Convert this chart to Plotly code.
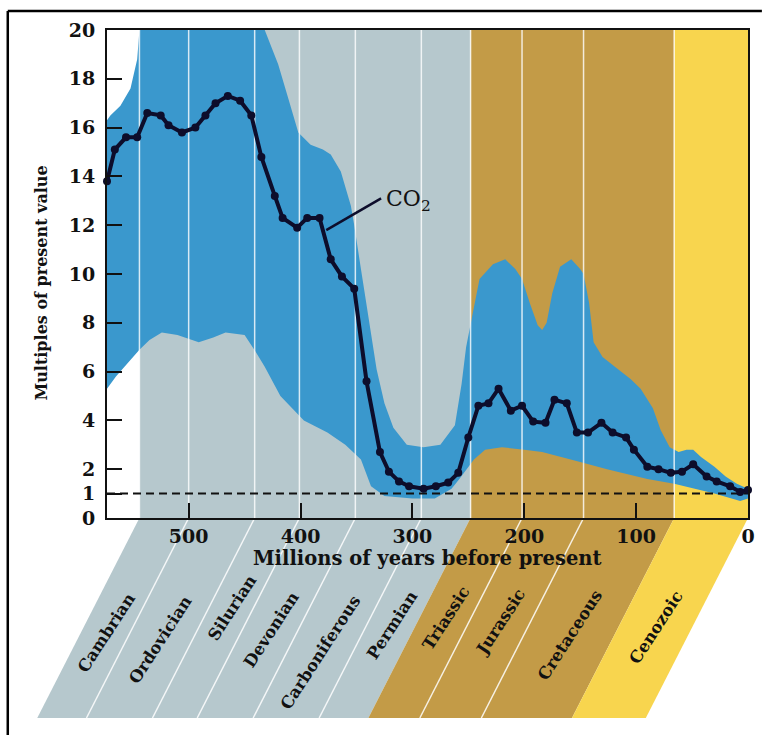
import plotly.graph_objects as go

# ---------------- data ----------------
co2_age = [573, 566, 556, 546, 537, 525, 518, 506, 494, 485, 476, 465, 454, 444, 435, 423, 416,
           403, 394, 383, 373, 363, 352, 341, 329, 321, 312, 303, 290, 279, 268, 259, 250, 241,
           232, 223, 212, 202, 192, 181, 173, 162, 153, 143, 131, 121, 109, 102, 90, 80, 69,
           59, 49, 37, 28, 16, 7, 0]
co2_val = [13.8, 15.1, 15.6, 15.6, 16.6, 16.5, 16.1, 15.8, 16.0, 16.5, 17.0, 17.3, 17.1, 16.5,
           14.8, 13.2, 12.3, 11.9, 12.3, 12.3, 10.6, 9.9, 9.4, 5.6, 2.7, 1.9, 1.5, 1.3, 1.2,
           1.3, 1.45, 1.85, 3.3, 4.6, 4.7, 5.3, 4.4, 4.6, 3.95, 3.9, 4.85, 4.7, 3.5, 3.5, 3.9,
           3.5, 3.3, 2.8, 2.1, 2.0, 1.85, 1.9, 2.2, 1.7, 1.5, 1.3, 1.07, 1.15]

upper_age = [573, 570, 561, 552, 546, 544, 432, 420, 411, 402, 391, 380, 373, 364, 355, 352,
             346, 339, 332, 325, 317, 305, 290, 275, 262, 256, 252, 246, 240, 228, 217, 208,
             202, 195, 188, 184, 180, 175, 168, 158, 150, 147, 142, 138, 130, 119, 105, 96,
             85, 78, 70, 62, 55, 49, 42, 30, 20, 10, 0]
upper_val = [16.3, 16.5, 16.9, 17.6, 18.8, 20, 20, 18.6, 17.2, 15.8, 15.3, 15.1, 14.9, 14.2,
             12.8, 12.0, 10.2, 8.1, 6.1, 4.7, 3.7, 3.0, 2.9, 3.0, 3.8, 5.5, 7.0, 8.4, 9.8,
             10.4, 10.6, 10.2, 9.8, 8.8, 7.9, 7.7, 8.0, 9.2, 10.3, 10.6, 10.2, 10.0, 8.8, 7.2,
             6.6, 6.2, 5.7, 5.3, 4.5, 3.6, 2.9, 2.7, 2.8, 2.8, 2.5, 2.1, 1.7, 1.4, 1.2]

lower_age = [573, 565, 555, 544, 535, 524, 510, 491, 478, 467, 450, 440, 432, 418, 397, 376,
             360, 346, 337, 325, 300, 280, 265, 258, 245, 235, 220, 200, 184, 150, 126, 90,
             66, 30, 7, 0]
lower_val = [5.3, 5.8, 6.3, 6.9, 7.3, 7.6, 7.5, 7.2, 7.4, 7.6, 7.5, 6.8, 6.2, 5.0, 4.0, 3.5,
             3.0, 2.4, 1.3, 0.9, 0.8, 0.8, 1.2, 1.6, 2.4, 2.8, 2.9, 2.8, 2.7, 2.3, 2.0, 1.6,
             1.4, 1.0, 0.7, 0.8]

period_names = ["Cambrian", "Ordovician", "Silurian", "Devonian", "Carboniferous", "Permian",
                "Triassic", "Jurassic", "Cretaceous", "Cenozoic"]
period_start = [544, 500, 441, 401, 351, 292, 248, 202, 147, 66]
period_end = [500, 441, 401, 351, 292, 248, 202, 147, 66, 0]

x_ticks = [500, 400, 300, 200, 100, 0]
y_ticks = [0, 1, 2, 4, 6, 8, 10, 12, 14, 16, 18, 20]

# ---------------- layout geometry ----------------
W, H = 767, 735
ML, MR, MT, MB = 107, 14, 30, 217
PW = W - ML - MR
PH = H - MT - MB
XMAX, XMIN = 573, 0
SERIF = "DejaVu Serif"
INK = "#111111"

def xp(age):  # age -> paper x
    return (XMAX - age) / (XMAX - XMIN)

def px2py(py):  # pixel y -> paper y
    return (H - MB - py) / PH

def px2px(px):
    return (px - ML) / PW

SLANT_DX = -103 / PW
Y_BOT = px2py(718)
SLANT_H = 198

GREY = "#b6c8cd"
BROWN = "#c39b47"
YELLOW = "#f8d54e"
BAND = "#3a98cd"
LINE = "#0d0d2b"

fig = go.Figure()

# uncertainty band
fig.add_trace(go.Scatter(
    x=upper_age + lower_age[::-1], y=upper_val + lower_val[::-1],
    fill="toself", fillcolor=BAND, line=dict(width=0), mode="lines",
    hoverinfo="skip", showlegend=False))

# white period boundary lines inside the plot
bx, by = [], []
for b in period_start:
    bx += [b, b, None]
    by += [0, 20, None]
fig.add_trace(go.Scatter(x=bx, y=by, mode="lines",
                         line=dict(color="rgba(255,255,255,0.8)", width=1.5),
                         hoverinfo="skip", showlegend=False))

# dashed reference line at present value
fig.add_trace(go.Scatter(x=[XMAX, XMIN], y=[1, 1], mode="lines",
                         line=dict(color=INK, width=2, dash="8px,5px"),
                         hoverinfo="skip", showlegend=False))

# CO2 curve
fig.add_trace(go.Scatter(x=co2_age, y=co2_val, mode="lines+markers",
                         line=dict(color=LINE, width=4),
                         marker=dict(color=LINE, size=8),
                         cliponaxis=False, showlegend=False))

shapes = []
eras = [(544, 248, GREY), (248, 66, BROWN), (66, 0, YELLOW)]
for a, b, c in eras:
    shapes.append(dict(type="rect", xref="x", yref="paper", x0=a, x1=b, y0=0, y1=1,
                       fillcolor=c, line=dict(width=0), layer="below"))
    xa, xb = xp(a), xp(b)
    path = (f"M {xa},0 L {xb},0 L {xb + SLANT_DX},{Y_BOT} "
            f"L {xa + SLANT_DX},{Y_BOT} Z")
    shapes.append(dict(type="path", xref="paper", yref="paper", path=path,
                       fillcolor=c, line=dict(width=0), layer="below"))

for b in period_start[1:]:
    if b in (248, 66):
        continue
    shapes.append(dict(type="line", xref="paper", yref="paper",
                       x0=xp(b), y0=0, x1=xp(b) + SLANT_DX, y1=Y_BOT,
                       line=dict(color="rgba(255,255,255,0.85)", width=1.5), layer="below"))

# CO2 pointer line
shapes.append(dict(type="line", xref="x", yref="y", x0=377, y0=11.8, x1=328, y1=13.1,
                   line=dict(color=LINE, width=2.5), layer="above"))

# outer border (top & left)
shapes.append(dict(type="line", xref="paper", yref="paper", x0=px2px(7), x1=px2px(767),
                   y0=px2py(11), y1=px2py(11), line=dict(color="black", width=2.5)))
shapes.append(dict(type="line", xref="paper", yref="paper", x0=px2px(7), x1=px2px(7),
                   y0=px2py(11), y1=px2py(735), line=dict(color="black", width=2.5)))

annotations = []
label_depth = [633, 640, 608, 630, 652, 625, 618, 622, 635, 627]
for name, a, b, d in zip(period_names, period_start, period_end, label_depth):
    mid = (a + b) / 2
    frac = (d - 520) / SLANT_H
    annotations.append(dict(
        xref="paper", yref="paper", x=xp(mid) + SLANT_DX * frac, y=px2py(d),
        xanchor="center", yanchor="middle",
        text="<b>" + name + "</b>", showarrow=False, textangle=-57,
        font=dict(family=SERIF, size=16.5, color=INK)))

annotations.append(dict(xref="x", yref="y", x=325, y=13.0, xanchor="left", yanchor="middle",
                        text="CO<sub>2</sub>", showarrow=False,
                        font=dict(family=SERIF, size=22, color=INK)))
annotations.append(dict(xref="paper", yref="paper", x=0.5, y=px2py(558),
                        xanchor="center", yanchor="middle",
                        text="<b>Millions of years before present</b>", showarrow=False,
                        font=dict(family=SERIF, size=19.5, color=INK)))
annotations.append(dict(xref="paper", yref="paper", x=px2px(40), y=px2py(283),
                        xanchor="center", yanchor="middle",
                        text="<b>Multiples of present value</b>", showarrow=False,
                        textangle=-90,
                        font=dict(family=SERIF, size=16, color=INK)))

fig.update_layout(
    width=W, height=H, margin=dict(l=ML, r=MR, t=MT, b=MB),
    plot_bgcolor="white", paper_bgcolor="white",
    shapes=shapes, annotations=annotations, showlegend=False,
    xaxis=dict(range=[XMAX, XMIN], tickvals=x_ticks,
               ticktext=["<b>%d</b>" % v for v in x_ticks],
               ticks="inside", ticklen=15, tickwidth=2, tickcolor=INK,
               showline=True, linecolor=INK, linewidth=2, mirror=True,
               showgrid=False, zeroline=False,
               tickfont=dict(family=SERIF, size=19, color=INK)),
    yaxis=dict(range=[0, 20], tickvals=y_ticks,
               ticktext=["<b>%d</b>" % v for v in y_ticks],
               ticks="inside", ticklen=15, tickwidth=2, tickcolor=INK,
               showline=True, linecolor=INK, linewidth=2, mirror=True,
               showgrid=False, zeroline=False,
               tickfont=dict(family=SERIF, size=19, color=INK),
               ticklabelstandoff=6),
)

fig.write_html("out.html", config={"displayModeBar": False},
               post_script="document.body.style.margin='0';document.body.style.overflow='hidden';")
